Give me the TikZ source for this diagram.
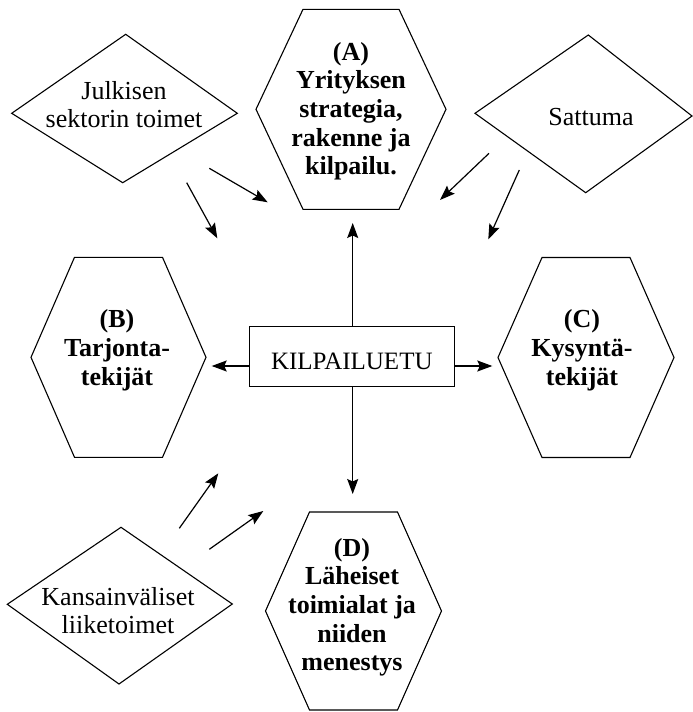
\documentclass[tikz,border=0pt]{standalone}
\usepackage{fontspec}
\setmainfont{Liberation Serif}
\usetikzlibrary{arrows.meta}
\newcommand\hexpath[5]{% cx cy top-halfwidth outer-halfwidth half-height
  \draw[shapeline] (#1-#3,#2-#5) -- (#1+#3,#2-#5) -- (#1+#4,#2) -- (#1+#3,#2+#5) -- (#1-#3,#2+#5) -- (#1-#4,#2) -- cycle;}
\begin{document}
\begin{tikzpicture}[x=1pt,y=-1pt,
  shapeline/.style={draw=black,line width=1.1pt,line join=miter},
  arr/.style={line width=1.2pt,-{Stealth[length=15pt,width=11pt,inset=2.5pt]}},
  reg/.style={font=\fontsize{26}{28}\selectfont,align=center,inner sep=0pt},
  bld/.style={font=\fontsize{26}{28.7}\selectfont\bfseries,align=center,inner sep=0pt}]
\path[use as bounding box] (0,0) rectangle (693,712);

% hexagons
\hexpath{351}{109.3}{48}{95}{100}
\hexpath{118.5}{357.3}{44}{87.5}{100}
\hexpath{586}{357.5}{44}{88}{100}
\hexpath{353.5}{611}{44}{88}{99}

% diamonds
\draw[shapeline] (125.7,34.3) -- (237.3,113.3) -- (122.7,182.7) -- (11.7,113.3) -- cycle;
\draw[shapeline] (588.3,35) -- (692,116) -- (585.7,192.7) -- (475,113.3) -- cycle;
\draw[shapeline] (121,527.3) -- (232.3,604) -- (119,684) -- (7.3,604.3) -- cycle;

% text nodes
\node[bld] (A) at (351,111.3) {(A)\\Yrityksen\\strategia,\\rakenne ja\\kilpailu.};
\node[bld] (B) at (117,350.4) {(B)\\Tarjonta-\\tekijät};
\node[bld] (C) at (582,350.4) {(C)\\Kysyntä-\\tekijät};
\node[bld] (D) at (352,607.3) {(D)\\Läheiset\\toimialat ja\\niiden\\menestys};
\node[reg] (J) at (124,104.3) {Julkisen\\sektorin toimet};
\node[reg] (S) at (591,117.2) {Sattuma};
\node[reg] (K) at (118,610.5) {Kansainväliset\\liiketoimet};
\node[draw,line width=1.1pt,minimum width=205pt,minimum height=60pt,inner sep=0pt,
  text height=25pt,text depth=0pt,font=\fontsize{25}{28}\selectfont] (k) at (351.8,356.7) {KILPAILUETU};

% arrow end points
\coordinate (tA) at (352.7,223);
\coordinate (tD) at (352.7,494);
\coordinate (tB) at (211.7,366);
\coordinate (tC) at (492.3,366);
\coordinate (j1s) at (209.3,168.3); \coordinate (j1e) at (267.7,202.3);
\coordinate (j2s) at (186.7,182.7); \coordinate (j2e) at (217.3,238.3);
\coordinate (s1s) at (489,153.3);   \coordinate (s1e) at (440,200);
\coordinate (s2s) at (519.3,170);   \coordinate (s2e) at (488.3,239.3);
\coordinate (k1s) at (179.3,528.3); \coordinate (k1e) at (218.3,473.3);
\coordinate (k2s) at (209.3,549.3); \coordinate (k2e) at (263.3,511);

% arrows from KILPAILUETU
\draw[arr] (tA |- k.north) -- (tA);
\draw[arr] (tD |- k.south) -- (tD);
\draw[arr] (k.west |- tB) -- (tB);
\draw[arr] (k.east |- tC) -- (tC);

% diagonal arrows
\draw[arr] (j1s) -- (j1e);
\draw[arr] (j2s) -- (j2e);
\draw[arr] (s1s) -- (s1e);
\draw[arr] (s2s) -- (s2e);
\draw[arr] (k1s) -- (k1e);
\draw[arr] (k2s) -- (k2e);
\end{tikzpicture}
\end{document}
